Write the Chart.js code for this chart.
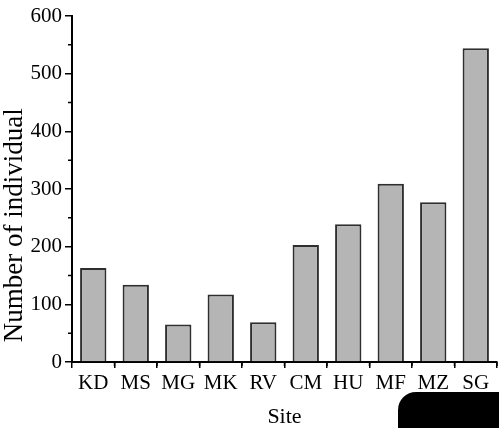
<!DOCTYPE html>
<html lang="en">
<head>
    <meta charset="UTF-8">
    <title>Number of individual by site</title>
    <script src="https://cdn.jsdelivr.net/npm/chart.js"></script>
    <style>
        body {
            margin: 0;
            background: #fff;
        }

        .wrap {
            position: relative;
            width: 499px;
            height: 428px;
        }

        .corner {
            position: absolute;
            left: 398px;
            top: 392px;
            width: 101px;
            height: 36px;
            background: #000;
            border-top-left-radius: 18px;
        }
    </style>
</head>
<body>
    <div class="wrap">
        <canvas id="siteChart" width="499" height="428"></canvas>
        <div class="corner"></div>
    </div>

    <script>
        const sites = ['KD', 'MS', 'MG', 'MK', 'RV', 'CM', 'HU', 'MF', 'MZ', 'SG'];
        const individuals = [163, 134, 65, 117, 69, 203, 239, 309, 277, 544];
        const yTicks = [0, 100, 200, 300, 400, 500, 600];
        const yMinorTicks = [50, 150, 250, 350, 450, 550];

        const serif = 'Liberation Serif, Times New Roman, serif';

        // minor ticks on both axes (Origin style) + y title sitting a bit low
        const extras = {
            id: 'extras',
            afterDraw(chart) {
                const ctx = chart.ctx;
                const x = chart.scales.x;
                const y = chart.scales.y;
                const area = chart.chartArea;
                ctx.save();
                ctx.strokeStyle = '#000';
                ctx.lineWidth = 1.5;
                ctx.beginPath();
                yMinorTicks.forEach(v => {
                    const py = y.getPixelForValue(v);
                    ctx.moveTo(y.right - 4, py);
                    ctx.lineTo(y.right, py);
                });
                const half = (x.getPixelForValue(1) - x.getPixelForValue(0)) / 2;
                sites.forEach((s, i) => {
                    const px = x.getPixelForValue(i) + half;
                    ctx.moveTo(px, x.top);
                    ctx.lineTo(px, x.top + 4);
                });
                ctx.stroke();

                ctx.translate(15, area.top + (area.bottom - area.top) * 0.605);
                ctx.rotate(-Math.PI / 2);
                ctx.fillStyle = '#000';
                ctx.font = '27px ' + serif;
                ctx.textAlign = 'center';
                ctx.textBaseline = 'middle';
                ctx.fillText('Number of individual', 0, 0);
                ctx.restore();
            }
        };

        new Chart(document.getElementById('siteChart'), {
            type: 'bar',
            data: {
                labels: sites,
                datasets: [{
                    data: individuals,
                    backgroundColor: '#b5b5b5',
                    borderColor: '#2e2e2e',
                    borderWidth: 2,
                    categoryPercentage: 1,
                    barPercentage: 0.62
                }]
            },
            options: {
                responsive: false,
                animation: false,
                layout: {
                    autoPadding: false,
                    padding: { top: 16, right: 2, left: 0, bottom: 0 }
                },
                plugins: {
                    legend: { display: false },
                    tooltip: { enabled: false }
                },
                scales: {
                    x: {
                        afterFit: s => { s.height = 66; },
                        border: { display: true, color: '#000', width: 2 },
                        grid: {
                            drawOnChartArea: false,
                            drawTicks: true,
                            tickLength: 6,
                            color: '#000',
                            lineWidth: 1.5
                        },
                        ticks: {
                            color: '#000',
                            padding: 3,
                            font: { family: serif, size: 21 }
                        },
                        title: {
                            display: true,
                            text: 'Site',
                            color: '#000',
                            padding: 0,
                            font: { family: serif, size: 22, lineHeight: 1 }
                        }
                    },
                    y: {
                        min: 0,
                        max: 600,
                        afterFit: s => { s.width = 72; },
                        afterBuildTicks: s => { s.ticks = yTicks.map(v => ({ value: v })); },
                        border: { display: true, color: '#000', width: 2 },
                        grid: {
                            drawOnChartArea: false,
                            drawTicks: true,
                            tickLength: 7,
                            color: '#000',
                            lineWidth: 1.5
                        },
                        ticks: {
                            color: '#000',
                            padding: 3,
                            font: { family: serif, size: 21 }
                        },
                        title: { display: false }
                    }
                }
            },
            plugins: [extras]
        });
    </script>
</body>
</html>
